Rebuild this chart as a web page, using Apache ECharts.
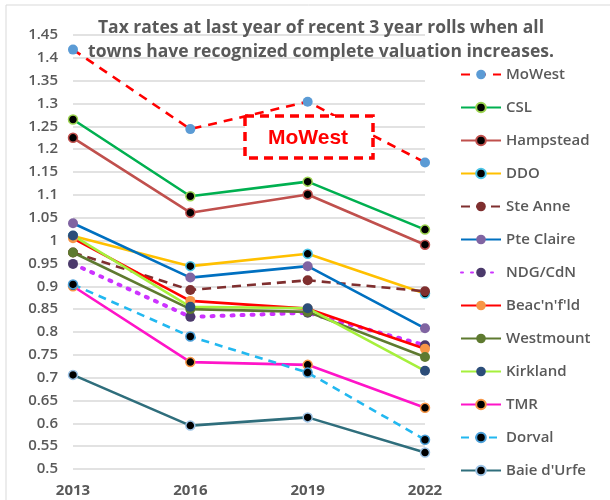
<!DOCTYPE html>
<html>
<head>
<meta charset="utf-8">
<script src="https://cdn.jsdelivr.net/npm/echarts@6/dist/echarts.min.js"></script>
<style>
  html, body { margin: 0; padding: 0; background: #fff; }
  #chart { width: 610px; height: 500px; }
</style>
</head>
<body>
<div id="chart"></div>
<script>
// years on the x axis
const years = ['2013', '2016', '2019', '2022'];

// tax rates per town
const moWest     = [1.418, 1.244, 1.304, 1.171];
const csl        = [1.265, 1.097, 1.129, 1.024];
const hampstead  = [1.225, 1.061, 1.101, 0.991];
const ddo        = [1.010, 0.944, 0.971, 0.884];
const steAnne    = [0.974, 0.892, 0.913, 0.889];
const pteClaire  = [1.038, 0.919, 0.944, 0.808];
const ndgCdn     = [0.949, 0.833, 0.842, 0.771];
const beaconsfld = [1.005, 0.868, 0.851, 0.763];
const westmount  = [0.974, 0.850, 0.844, 0.745];
const kirkland   = [1.011, 0.855, 0.852, 0.715];
const tmr        = [0.900, 0.734, 0.728, 0.634];
const dorval     = [0.904, 0.790, 0.711, 0.564];
const baieDUrfe  = [0.706, 0.595, 0.613, 0.536];

const chart = echarts.init(document.getElementById('chart'));

// helper for a line series
function line(name, data, color, type, mColor, mBorder) {
  return {
    name: name,
    type: 'line',
    data: data,
    symbol: 'circle',
    symbolSize: mBorder ? 9 : 10,
    showSymbol: true,
    lineStyle: { color: color, width: 2.6, type: type },
    itemStyle: {
      color: mColor,
      borderColor: mBorder || mColor,
      borderWidth: mBorder ? 1.5 : 0
    },
    emphasis: { disabled: true }
  };
}

const series = [
  line('MoWest', moWest, '#FF0000', [9, 7], '#5B9BD5'),
  line('CSL', csl, '#00B050', 'solid', '#000000', '#9BD34F'),
  line('Hampstead', hampstead, '#C0504D', 'solid', '#000000', '#C0504D'),
  line('DDO', ddo, '#FFC000', 'solid', '#000000', '#4BC4E6'),
  line('Ste Anne', steAnne, '#7F2F2F', [9, 6], '#7F2F2F'),
  line('Pte Claire', pteClaire, '#0070C0', 'solid', '#8064A2'),
  line('NDG/CdN', ndgCdn, '#CC33FF', [2, 8], '#4B3A6B'),
  line("Beac'n'f'ld", beaconsfld, '#FF0000', 'solid', '#F79646'),
  line('Westmount', westmount, '#5E7A30', 'solid', '#5E7A30'),
  line('Kirkland', kirkland, '#A6F03C', 'solid', '#2C4D79'),
  line('TMR', tmr, '#FF14C8', 'solid', '#000000', '#F79646'),
  line('Dorval', dorval, '#22B8F0', [8, 6], '#000000', '#4A9FD8'),
  line("Baie d'Urfe", baieDUrfe, '#2F6E7C', 'solid', '#000000', '#9CC3E6')
];
series[6].lineStyle.cap = 'round';
series[6].lineStyle.width = 4;

const option = {
  animation: false,
  backgroundColor: '#fff',
  title: {
    text: 'Tax rates at last year of recent 3 year rolls when all\ntowns have recognized complete valuation increases.',
    left: 316,
    top: 11,
    textAlign: 'center',
    textStyle: {
      fontFamily: 'Open Sans',
      fontSize: 17.5,
      fontWeight: 'bold',
      color: '#595959',
      lineHeight: 24
    }
  },
  legend: {
    orient: 'vertical',
    left: 455,
    top: 62,
    height: 440,
    itemWidth: 40,
    itemHeight: 12,
    itemGap: 18,
    data: series.map(s => s.name),
    textStyle: {
      fontFamily: 'Open Sans',
      fontSize: 15,
      fontWeight: 600,
      color: '#595959'
    }
  },
  grid: { left: 73, right: 185, top: 35, bottom: 31, containLabel: false },
  xAxis: {
    type: 'category',
    data: years,
    boundaryGap: false,
    axisLine: { show: false },
    axisTick: { show: false },
    axisLabel: {
      margin: 14,
      fontFamily: 'Open Sans',
      fontSize: 15,
      fontWeight: 'bold',
      color: '#595959'
    }
  },
  yAxis: {
    type: 'value',
    min: 0.5,
    max: 1.45,
    interval: 0.05,
    axisLine: { show: false },
    axisTick: { show: false },
    splitLine: { lineStyle: { color: '#D9D9D9', width: 1.5 } },
    axisLabel: {
      margin: 15,
      fontFamily: 'Open Sans',
      fontSize: 15,
      fontWeight: 600,
      color: '#595959',
      formatter: v => String(Math.round(v * 100) / 100)
    }
  },
  graphic: [
    {
      type: 'rect',
      shape: { x: 6, y: 5, width: 620, height: 520 },
      style: { fill: 'none', stroke: '#D9D9D9', lineWidth: 1 },
      silent: true
    },
    {
      type: 'rect',
      shape: { x: 245, y: 116, width: 128, height: 42 },
      style: { fill: '#fff', stroke: '#FF0000', lineWidth: 3.5, lineDash: [9, 6] },
      z: 100
    },
    {
      type: 'text',
      x: 308,
      y: 138,
      style: {
        text: 'MoWest',
        fill: '#FF0000',
        fontFamily: 'Liberation Sans',
        fontSize: 21,
        fontWeight: 'bold',
        align: 'center',
        verticalAlign: 'middle'
      },
      z: 101
    }
  ],
  series: series
};

chart.setOption(option);
</script>
</body>
</html>
